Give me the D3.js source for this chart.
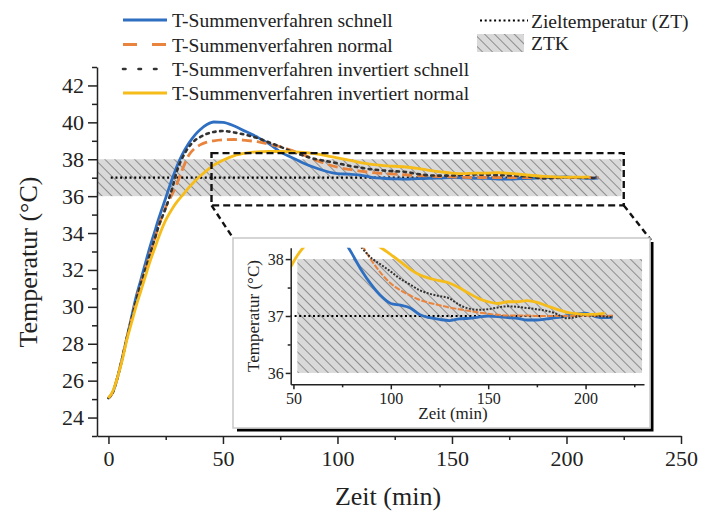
<!DOCTYPE html>
<html>
<head>
<meta charset="utf-8">
<script src="https://cdn.jsdelivr.net/npm/d3@7"></script>
<style>
  body { margin: 0; background: #fff; }
  svg { display: block; font-family: "Liberation Serif", "DejaVu Serif", serif; }
  .axis path, .axis line { stroke: #222; stroke-width: 1.5; }
  .axis text { fill: #222; font-family: "Liberation Serif", serif; }
</style>
</head>
<body>
<svg id="chart" width="704" height="513"></svg>
<script>
// --- data ---
var zeit = [0, 2, 4, 6, 8, 10, 12, 14, 16, 18, 20, 22, 25, 28, 30, 32, 35, 38, 40, 43, 46, 50, 55, 60, 65, 70, 75, 80, 85, 90, 95,
  100, 105, 110, 115, 120, 125, 130, 135, 140, 145, 150, 155, 160, 165, 170, 175, 180, 185, 190, 195, 200, 205, 210, 214];

var schnell = [25.05, 25.4, 26.2, 27.2, 28.3, 29.4, 30.5, 31.4, 32.3, 33.2, 34.0, 34.8, 35.9, 37.0, 37.65, 38.2, 38.85, 39.35, 39.6, 39.88, 40.02, 40.0, 39.8, 39.5, 39.2, 38.85, 38.4, 38.1, 37.8, 37.55, 37.35,
  37.22, 37.19, 37.14, 37.02, 36.97, 36.94, 36.92, 36.95, 36.96, 36.98, 37.0, 36.99, 36.97, 36.96, 36.93, 36.93, 36.95, 36.97, 37.0, 37.03, 37.05, 36.99, 36.97, 36.98];

var normal = [25.05, 25.4, 26.2, 27.2, 28.3, 29.3, 30.3, 31.2, 32.0, 32.8, 33.6, 34.4, 35.4, 36.15, 36.7, 37.35, 38.2, 38.62, 38.78, 38.93, 39.0, 39.05, 39.07, 39.02, 38.95, 38.82, 38.68, 38.48, 38.25, 37.98, 37.75,
  37.57, 37.45, 37.36, 37.28, 37.23, 37.19, 37.15, 37.12, 37.09, 37.06, 37.04, 37.02, 37.01, 37.01, 37.01, 37.0, 37.0, 37.0, 37.0, 37.0, 37.01, 37.0, 37.0, 37.01];

var invSchnell = [25.05, 25.4, 26.2, 27.2, 28.3, 29.3, 30.3, 31.2, 32.0, 32.8, 33.6, 34.4, 35.35, 36.5, 37.4, 38.0, 38.65, 39.05, 39.2, 39.38, 39.48, 39.53, 39.45, 39.32, 39.15, 38.92, 38.68, 38.42, 38.2, 38.02, 37.9,
  37.78, 37.65, 37.55, 37.45, 37.39, 37.35, 37.31, 37.2, 37.13, 37.11, 37.12, 37.15, 37.17, 37.16, 37.14, 37.12, 37.09, 37.04, 36.96, 36.98, 37.03, 37.0, 36.99, 36.98];

var invNormal = [25.05, 25.45, 26.2, 27.1, 28.2, 29.1, 30.0, 30.8, 31.6, 32.4, 33.1, 33.8, 34.7, 35.35, 35.7, 36.0, 36.45, 36.85, 37.08, 37.4, 37.68, 37.95, 38.2, 38.33, 38.4, 38.42, 38.42, 38.4, 38.37, 38.3, 38.2,
  38.08, 37.95, 37.82, 37.72, 37.66, 37.62, 37.58, 37.5, 37.4, 37.31, 37.25, 37.22, 37.25, 37.25, 37.27, 37.24, 37.18, 37.12, 37.07, 37.04, 37.03, 37.03, 37.05, null];

var seriesNames = ['T-Summenverfahren schnell', 'T-Summenverfahren normal', 'T-Summenverfahren invertiert schnell', 'T-Summenverfahren invertiert normal'];
var seriesValues = [schnell, normal, invSchnell, invNormal];

var zielTemp = 37;
var zielZeit = [1, 214];
var ztkBand = [36, 38];
var zoomZeit = [45, 225];
var zoomTemp = [35.5, 38.33];

var xTicks = [0, 50, 100, 150, 200, 250];
var xMinor = [25, 75, 125, 175, 225];
var yTicks = [24, 26, 28, 30, 32, 34, 36, 38, 40, 42];
var yMinor = [23, 25, 27, 29, 31, 33, 35, 37, 39, 41, 43];
var insetXTicks = [50, 100, 150, 200];
var insetXMinor = [75, 125, 175, 225];
var insetYTicks = [36, 37, 38];
var insetYMinor = [36.5, 37.5];

// styles, in series order
var colors = ['#2f6fc2', '#e8843e', '#333333', '#f6bc1a'];
var dashes = [null, '10,5', '2.5,4.5', null];
var legendDashes = [null, '14,15', '2.5,13', null];
var widths = [2.8, 2.8, 2.6, 2.8];

var svg = d3.select('#chart');
var defs = svg.append('defs');

var hatch = defs.append('pattern').attr('id', 'hatch')
  .attr('patternUnits', 'userSpaceOnUse').attr('width', 7).attr('height', 7)
  .attr('patternTransform', 'rotate(-45)');
hatch.append('rect').attr('width', 7).attr('height', 7).attr('fill', '#d9d9d9');
hatch.append('line').attr('x1', 3.5).attr('x2', 3.5).attr('y1', 0).attr('y2', 7)
  .attr('stroke', '#858585').attr('stroke-width', 0.9);

// ---------- main plot ----------
var x = d3.scaleLinear().domain([-5, 250]).range([97, 681]);
var y = d3.scaleLinear().domain([23, 43]).range([436, 67]);

function lineFor(xs, ys) {
  return d3.line()
    .defined(function (d) { return d != null; })
    .x(function (d, i) { return xs(zeit[i]); })
    .y(function (d) { return ys(d); })
    .curve(d3.curveMonotoneX);
}

svg.append('rect')
  .attr('x', x(-5)).attr('width', x(224) - x(-5))
  .attr('y', y(ztkBand[1])).attr('height', y(ztkBand[0]) - y(ztkBand[1]))
  .attr('fill', 'url(#hatch)');

svg.append('line')
  .attr('x1', x(zielZeit[0])).attr('x2', x(zielZeit[1]))
  .attr('y1', y(zielTemp)).attr('y2', y(zielTemp))
  .attr('stroke', '#000').attr('stroke-width', 2.2).attr('stroke-dasharray', '2,2.7');

var mainLine = lineFor(x, y);
svg.append('g').selectAll('path').data(seriesValues).enter().append('path')
  .attr('d', mainLine)
  .attr('fill', 'none')
  .attr('stroke', function (d, i) { return colors[i]; })
  .attr('stroke-width', function (d, i) { return widths[i]; })
  .attr('stroke-dasharray', function (d, i) { return dashes[i]; })
  .attr('stroke-linecap', function (d, i) { return i === 2 ? 'round' : 'butt'; });

// zoom window
svg.append('rect')
  .attr('x', x(zoomZeit[0])).attr('width', x(zoomZeit[1]) - x(zoomZeit[0]))
  .attr('y', y(zoomTemp[1])).attr('height', y(zoomTemp[0]) - y(zoomTemp[1]))
  .attr('fill', 'none').attr('stroke', '#111').attr('stroke-width', 2.4)
  .attr('stroke-dasharray', '7,4');

// axes
var gx = svg.append('g').attr('class', 'axis').attr('transform', 'translate(0,436)')
  .call(d3.axisBottom(x).tickValues(xTicks).tickSize(8).tickSizeOuter(0).tickPadding(6));
gx.selectAll('text').style('font-size', '22px');
svg.append('g').attr('class', 'axis').attr('transform', 'translate(0,436)')
  .call(d3.axisBottom(x).tickValues(xMinor).tickSize(4).tickSizeOuter(0).tickFormat(''))
  .select('.domain').remove();

var gy = svg.append('g').attr('class', 'axis').attr('transform', 'translate(97,0)')
  .call(d3.axisLeft(y).tickValues(yTicks).tickSize(9).tickSizeOuter(0).tickPadding(4));
gy.selectAll('text').style('font-size', '22px');
svg.append('g').attr('class', 'axis').attr('transform', 'translate(97,0)')
  .call(d3.axisLeft(y).tickValues(yMinor).tickSize(5).tickSizeOuter(0).tickFormat(''))
  .select('.domain').remove();

svg.append('text').attr('x', 388).attr('y', 505).attr('text-anchor', 'middle')
  .style('font-size', '26px').attr('fill', '#222').text('Zeit (min)');
svg.append('text').attr('transform', 'translate(37,262) rotate(-90)').attr('text-anchor', 'middle')
  .style('font-size', '26px').attr('fill', '#222').text('Temperatur (°C)');

// ---------- inset ----------
var box = { x0: 233, y0: 238, x1: 650, y1: 428 };

svg.append('line').attr('x1', x(zoomZeit[0])).attr('y1', y(zoomTemp[0]))
  .attr('x2', box.x0).attr('y2', box.y0)
  .attr('stroke', '#111').attr('stroke-width', 2.4).attr('stroke-dasharray', '6,4');
svg.append('line').attr('x1', x(zoomZeit[1])).attr('y1', y(zoomTemp[0]))
  .attr('x2', box.x1 + 1).attr('y2', box.y0 + 2)
  .attr('stroke', '#111').attr('stroke-width', 2.4).attr('stroke-dasharray', '6,4');

svg.append('path')
  .attr('d', 'M' + (box.x1 + 2) + ',' + (box.y0 + 4) + 'V' + (box.y1 + 2) + 'H' + (box.x0 + 4))
  .attr('fill', 'none').attr('stroke', '#000').attr('stroke-width', 3);
svg.append('rect').attr('x', box.x0).attr('y', box.y0)
  .attr('width', box.x1 - box.x0).attr('height', box.y1 - box.y0)
  .attr('fill', '#fff').attr('stroke', '#c8c8c8').attr('stroke-width', 1.5);

var ix = d3.scaleLinear().domain([48.6, 230]).range([290.7, 644]);
var iy = d3.scaleLinear().domain([35.8, 38.2]).range([384.3, 247.7]);

defs.append('clipPath').attr('id', 'insetClip').append('rect')
  .attr('x', ix.range()[0]).attr('y', iy.range()[1])
  .attr('width', ix.range()[1] - ix.range()[0]).attr('height', iy.range()[0] - iy.range()[1]);

var inset = svg.append('g');
inset.append('rect')
  .attr('x', ix(52)).attr('width', ix(229) - ix(52))
  .attr('y', iy(ztkBand[1])).attr('height', iy(ztkBand[0]) - iy(ztkBand[1]))
  .attr('fill', 'url(#hatch)');

var plotArea = inset.append('g').attr('clip-path', 'url(#insetClip)');
plotArea.append('line')
  .attr('x1', ix(zielZeit[0])).attr('x2', ix(zielZeit[1]))
  .attr('y1', iy(zielTemp)).attr('y2', iy(zielTemp))
  .attr('stroke', '#000').attr('stroke-width', 2).attr('stroke-dasharray', '2,2.6');

var insetLine = lineFor(ix, iy);
plotArea.selectAll('path.s').data(seriesValues).enter().append('path')
  .attr('class', 's')
  .attr('d', insetLine)
  .attr('fill', 'none')
  .attr('stroke', function (d, i) { return colors[i]; })
  .attr('stroke-width', function (d, i) { return i === 0 || i === 3 ? 2.8 : 2; })
  .attr('stroke-dasharray', function (d, i) { return i === 1 ? '6,1.5' : i === 2 ? '2,1.5' : null; });

var igx = inset.append('g').attr('class', 'axis').attr('transform', 'translate(0,' + iy.range()[0] + ')')
  .call(d3.axisBottom(ix).tickValues(insetXTicks).tickSize(5).tickSizeOuter(0).tickPadding(3));
igx.selectAll('text').style('font-size', '16px');
inset.append('g').attr('class', 'axis').attr('transform', 'translate(0,' + iy.range()[0] + ')')
  .call(d3.axisBottom(ix).tickValues(insetXMinor).tickSize(3).tickSizeOuter(0).tickFormat(''))
  .select('.domain').remove();

var igy = inset.append('g').attr('class', 'axis').attr('transform', 'translate(' + ix.range()[0] + ',0)')
  .call(d3.axisLeft(iy).tickValues(insetYTicks).tickSize(5).tickSizeOuter(0).tickPadding(2)
    .tickFormat(d3.format('d')));
igy.selectAll('text').style('font-size', '16px');
inset.append('g').attr('class', 'axis').attr('transform', 'translate(' + ix.range()[0] + ',0)')
  .call(d3.axisLeft(iy).tickValues(insetYMinor).tickSize(3).tickSizeOuter(0).tickFormat(''))
  .select('.domain').remove();

inset.append('text').attr('x', 453).attr('y', 419).attr('text-anchor', 'middle')
  .style('font-size', '17px').attr('fill', '#222').text('Zeit (min)');
inset.append('text').attr('transform', 'translate(259,316) rotate(-90)').attr('text-anchor', 'middle')
  .style('font-size', '17px').attr('fill', '#222').text('Temperatur (°C)');

// ---------- legend ----------
var legend = svg.append('g').style('font-size', '19.5px');
var rowY = [20, 44.5, 69, 93];
seriesNames.forEach(function (name, i) {
  legend.append('line').attr('x1', 123).attr('x2', 167).attr('y1', rowY[i]).attr('y2', rowY[i])
    .attr('stroke', colors[i]).attr('stroke-width', widths[i])
    .attr('stroke-dasharray', legendDashes[i])
    .attr('stroke-linecap', i === 2 ? 'round' : 'butt');
  legend.append('text').attr('x', 172).attr('y', rowY[i] + 7).attr('fill', '#222').text(name);
});

legend.append('line').attr('x1', 480).attr('x2', 528).attr('y1', 20.5).attr('y2', 20.5)
  .attr('stroke', '#000').attr('stroke-width', 2.2).attr('stroke-dasharray', '2,2.7');
legend.append('text').attr('x', 531).attr('y', 27.5).attr('fill', '#222').text('Zieltemperatur (ZT)');
legend.append('rect').attr('x', 477).attr('y', 34).attr('width', 47).attr('height', 18)
  .attr('fill', 'url(#hatch)');
legend.append('text').attr('x', 531).attr('y', 50).attr('fill', '#222').text('ZTK');
</script>
</body>
</html>
